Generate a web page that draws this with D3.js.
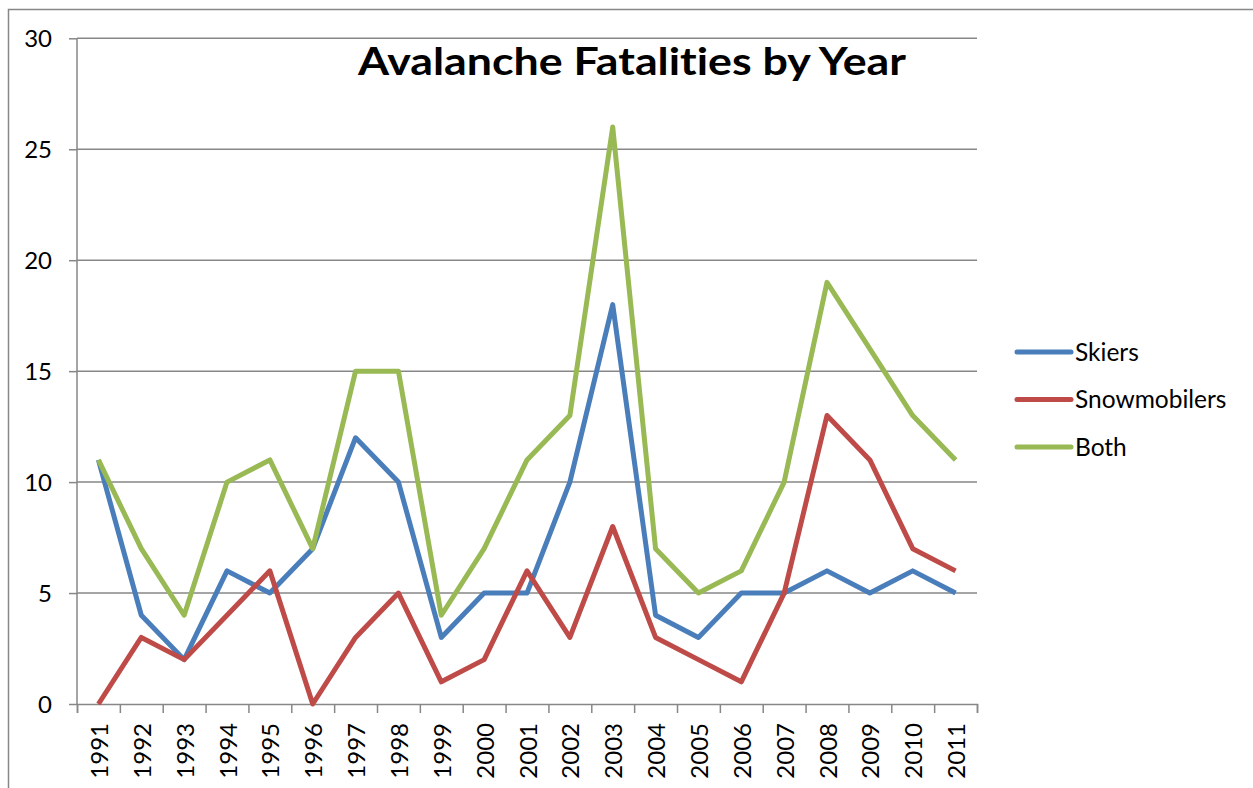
<!DOCTYPE html>
<html>
<head>
<meta charset="utf-8">
<script src="https://cdn.jsdelivr.net/npm/d3@7"></script>
<style>
  body { margin: 0; background: #fff; }
  svg { display: block; }
  text { font-family: Lato, "Open Sans", sans-serif; fill: #000; font-variant-ligatures: none; }
</style>
</head>
<body>
<svg id="chart" width="1253" height="788"></svg>
<script>
const years = ["1991","1992","1993","1994","1995","1996","1997","1998","1999","2000",
               "2001","2002","2003","2004","2005","2006","2007","2008","2009","2010","2011"]
const skiers = [11, 4, 2, 6, 5, 7, 12, 10, 3, 5, 5, 10, 18, 4, 3, 5, 5, 6, 5, 6, 5]
const snowmobilers = [0, 3, 2, 4, 6, 0, 3, 5, 1, 2, 6, 3, 8, 3, 2, 1, 5, 13, 11, 7, 6]
const both = [11, 7, 4, 10, 11, 7, 15, 15, 4, 7, 11, 13, 26, 7, 5, 6, 10, 19, 16, 13, 11]
const yTicks = [0, 5, 10, 15, 20, 25, 30]

const series = [
    { name: "Skiers", values: skiers, color: "#4a7ebb" },
    { name: "Snowmobilers", values: snowmobilers, color: "#be4b48" },
    { name: "Both", values: both, color: "#98b954" }
]

const svg = d3.select("#chart")
const grey = "#878787"
const plotL = 77, plotR = 977, plotT = 38.3, plotB = 704

// outer chart border (only top/left visible in the crop)
svg.append("path")
    .attr("d", "M8.5,788 V9.5 H1253")
    .attr("fill", "none")
    .attr("stroke", grey)
    .attr("stroke-width", 1.5)

const x = d3.scaleBand().domain(years).range([plotL, plotR])
const xEdge = d3.scaleLinear().domain([0, years.length]).range([plotL, plotR])
const y = d3.scaleLinear().domain([0, 30]).range([plotB, plotT])

// gridlines + y axis
const yAxis = svg.append("g")
    .attr("transform", `translate(${plotL},0)`)
    .call(d3.axisLeft(y).tickValues(yTicks).tickSize(8).tickPadding(17))
yAxis.select(".domain").remove()
yAxis.selectAll(".tick line").attr("stroke", grey).attr("stroke-width", 1.5)
yAxis.selectAll(".tick text").style("font-size", "24px").attr("dy", "0.35em")

svg.append("g")
    .selectAll("line")
    .data(yTicks.filter(d => d > 0))
    .join("line")
    .attr("x1", plotL).attr("x2", plotR)
    .attr("y1", d => y(d)).attr("y2", d => y(d))
    .attr("stroke", grey)
    .attr("stroke-width", 1.5)

svg.append("line")
    .attr("x1", plotL).attr("x2", plotL)
    .attr("y1", plotT).attr("y2", plotB)
    .attr("stroke", grey).attr("stroke-width", 1.5)

// x axis: tick marks at category edges
const xTicks = svg.append("g")
    .attr("transform", `translate(0,${plotB})`)
    .call(d3.axisBottom(xEdge).tickValues(d3.range(years.length + 1)).tickSize(9).tickFormat(""))
xTicks.select(".domain").attr("stroke", grey).attr("stroke-width", 1.5)
xTicks.selectAll(".tick line").attr("stroke", grey).attr("stroke-width", 1.5)

// year labels, rotated
const xLabels = svg.append("g")
    .attr("transform", `translate(0,${plotB})`)
    .call(d3.axisBottom(x).tickSize(0).tickPadding(0))
xLabels.select(".domain").remove()
xLabels.selectAll(".tick text")
    .style("font-size", "24px")
    .attr("text-anchor", "end")
    .attr("transform", "rotate(-90)")
    .attr("x", -19)
    .attr("y", 1)
    .attr("dy", "0.36em")

// lines
const line = d3.line()
    .x((d, i) => x(years[i]) + x.bandwidth() / 2)
    .y(d => y(d))

svg.append("g")
    .selectAll("path")
    .data(series)
    .join("path")
    .attr("d", d => line(d.values))
    .attr("fill", "none")
    .attr("stroke", d => d.color)
    .attr("stroke-width", 5)
    .attr("stroke-linejoin", "round")

// title
svg.append("text")
    .attr("x", 358)
    .attr("y", 75)
    .attr("textLength", 548)
    .attr("lengthAdjust", "spacingAndGlyphs")
    .style("font-size", "38px")
    .style("font-weight", "bold")
    .text("Avalanche Fatalities by Year")

// legend
const legend = svg.append("g")
    .selectAll("g")
    .data(series)
    .join("g")
    .attr("transform", (d, i) => `translate(1017,${352 + i * 47.5})`)

legend.append("line")
    .attr("x1", 0).attr("x2", 54)
    .attr("stroke", d => d.color)
    .attr("stroke-width", 5)
    .attr("stroke-linecap", "round")

legend.append("text")
    .attr("x", 58)
    .attr("dy", "0.36em")
    .style("font-size", "24.5px")
    .text(d => d.name)
</script>
</body>
</html>
